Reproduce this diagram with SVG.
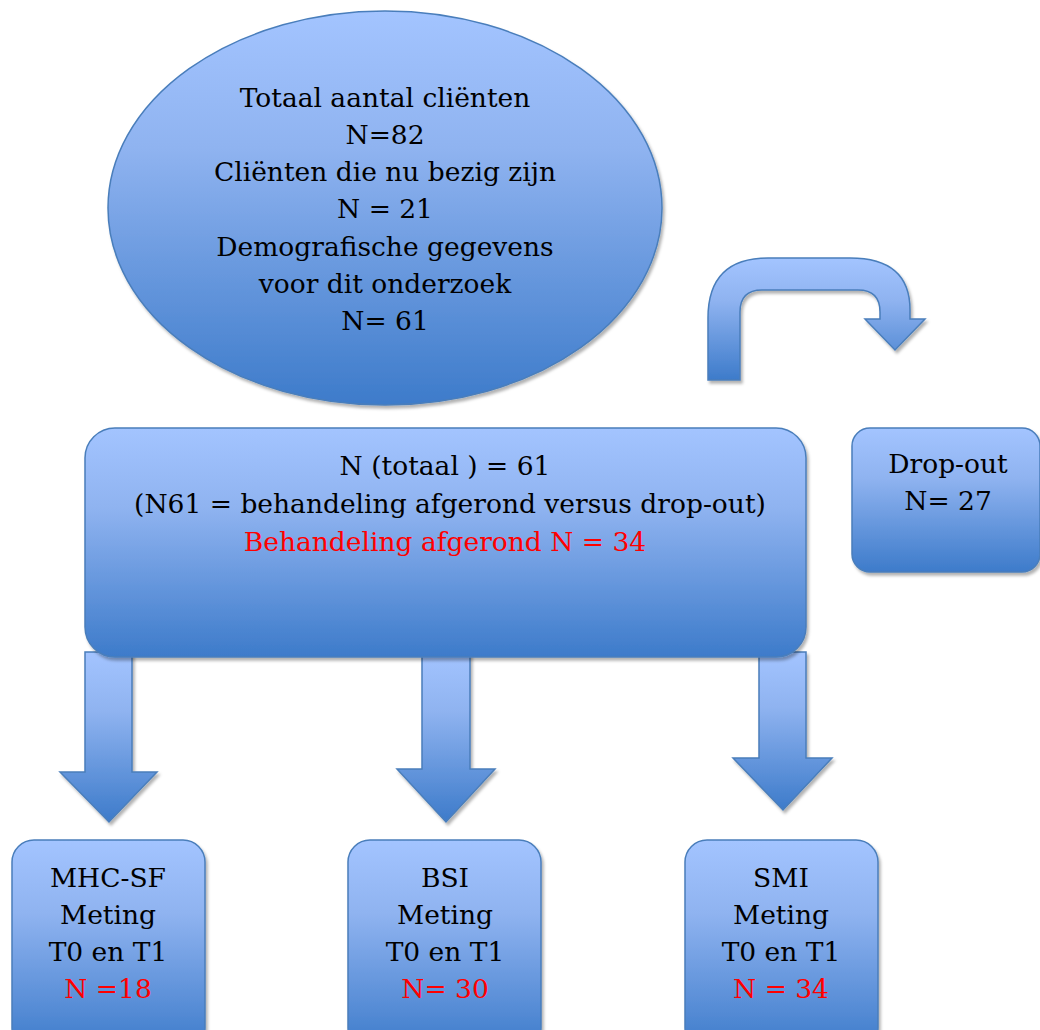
<svg xmlns="http://www.w3.org/2000/svg" width="1040" height="1030" viewBox="0 0 1040 1030">
<style>
.shape{fill:url(#g);stroke:#4a7ebb;stroke-width:1.5;filter:url(#sh)}
.t{font-family:"DejaVu Serif","Liberation Serif",serif;font-size:26.5px;fill:#000;text-anchor:middle}
.r{fill:#ff0000}
</style>
<defs>
<linearGradient id="g" x1="0" y1="0" x2="0" y2="1">
<stop offset="0" stop-color="#a3c4ff"/>
<stop offset="0.35" stop-color="#8fb3f0"/>
<stop offset="1" stop-color="#3d7bca"/>
</linearGradient>
<filter id="sh" x="-10%" y="-10%" width="130%" height="130%">
<feDropShadow dx="2" dy="3" stdDeviation="1.5" flood-color="#000" flood-opacity="0.3"/>
</filter>
</defs>
<g id="connectors">
<path class="shape" d="M708,380 L708,318 Q708,258 768,258 L850,258 Q910,258 910,310 L910,319 L925,319 L895,350 L865,319 L880,319 L880,312 Q880,290 858,290 L762,290 Q740,290 740,312 L740,380 Z"/>
<path class="shape" d="M85,652 L132,652 L132,772 L157,772 L109,822 L60,772 L85,772 Z"/>
<path class="shape" d="M422,652 L470,652 L470,769 L495,769 L446,822 L397,769 L422,769 Z"/>
<path class="shape" d="M759,652 L806,652 L806,758 L832,758 L783,810 L733,758 L759,758 Z"/>
</g>
<g id="node-totaal">
<ellipse class="shape" cx="385" cy="208" rx="277" ry="197"/>
<text class="t" x="385" y="107">Totaal aantal cliënten</text>
<text class="t" x="385" y="144">N=82</text>
<text class="t" x="385" y="181">Cliënten die nu bezig zijn</text>
<text class="t" x="385" y="218">N = 21</text>
<text class="t" x="385" y="256">Demografische gegevens</text>
<text class="t" x="385" y="293">voor dit onderzoek</text>
<text class="t" x="385" y="330">N= 61</text>
</g>
<g id="node-main">
<rect class="shape" x="85" y="428" width="721" height="229" rx="30"/>
<text class="t" x="445" y="475">N (totaal ) = 61</text>
<text class="t" x="450" y="513">(N61 = behandeling afgerond versus drop-out)</text>
<text class="t r" x="445" y="551">Behandeling afgerond N = 34</text>
</g>
<g id="node-dropout">
<rect class="shape" x="852" y="428" width="188" height="144" rx="18"/>
<text class="t" x="948" y="473">Drop-out</text>
<text class="t" x="948" y="510">N= 27</text>
</g>
<g id="node-mhc">
<rect class="shape" x="12" y="840" width="193" height="210" rx="22"/>
<text class="t" x="108" y="887">MHC-SF</text>
<text class="t" x="108" y="924">Meting</text>
<text class="t" x="108" y="961">T0 en T1</text>
<text class="t r" x="108" y="998">N =18</text>
</g>
<g id="node-bsi">
<rect class="shape" x="348" y="840" width="193" height="210" rx="22"/>
<text class="t" x="445" y="887">BSI</text>
<text class="t" x="445" y="924">Meting</text>
<text class="t" x="445" y="961">T0 en T1</text>
<text class="t r" x="445" y="998">N= 30</text>
</g>
<g id="node-smi">
<rect class="shape" x="685" y="840" width="193" height="210" rx="22"/>
<text class="t" x="781" y="887">SMI</text>
<text class="t" x="781" y="924">Meting</text>
<text class="t" x="781" y="961">T0 en T1</text>
<text class="t r" x="781" y="998">N = 34</text>
</g>
</svg>
